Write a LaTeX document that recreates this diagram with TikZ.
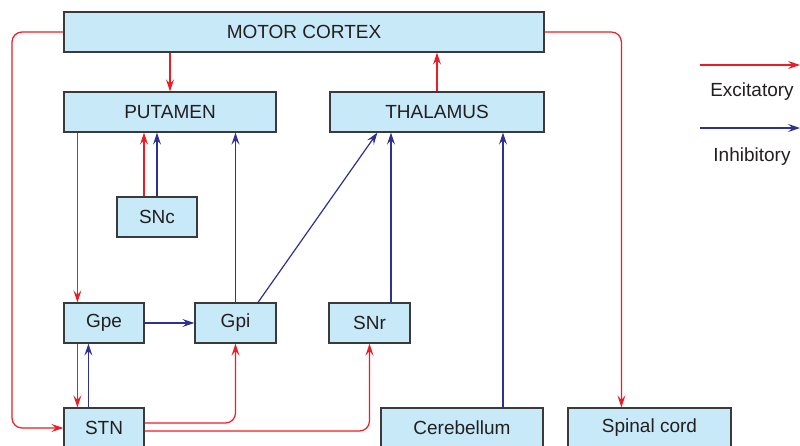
\documentclass[tikz,border=0pt]{standalone}
\usepackage{fontspec}
\setmainfont{Liberation Sans}
\usetikzlibrary{arrows.meta,calc}
\definecolor{exred}{HTML}{ED1C24}
\definecolor{inblue}{HTML}{2E3192}
\definecolor{boxfill}{HTML}{C7E9F8}
\definecolor{boxline}{HTML}{3A3A3A}
\definecolor{txt}{HTML}{231F20}
\tikzset{
  box/.style={draw=boxline, line width=1.2pt, fill=boxfill, minimum height=40pt, inner sep=0pt,
              font=\fontsize{19}{21}\selectfont, text=txt},
  tip/.style={-{Stealth[length=12pt,width=8pt,inset=4.5pt]}},
  exc/.style={tip, draw=exred, line width=1.2pt},
  inh/.style={tip, draw=inblue, line width=1.2pt},
  lbl/.style={font=\fontsize{19}{21}\selectfont, text=txt, inner sep=0pt}
}
\begin{document}
\begin{tikzpicture}[x=1pt,y=-1pt]
\useasboundingbox (0,0) rectangle (800,445);
\clip (0,0) rectangle (800,445);
\fill[white] (0,0) rectangle (800,445);

\node[box, minimum width=480pt] (mc) at (304,32) {MOTOR CORTEX};
\node[box, minimum width=212pt] (put) at (170,112) {PUTAMEN};
\node[box, minimum width=214pt] (thal) at (437,112) {THALAMUS};
\node[box, minimum width=80pt] (snc) at (157,217) {SNc};
\node[box, minimum width=80pt] (gpe) at (104,323) {Gpe};
\node[box, minimum width=81pt] (gpi) at (235.5,323) {Gpi};
\node[box, minimum width=81pt] (snr) at (369.5,323) {SNr};
\node[box, minimum width=80pt] (stn) at (104,428) {STN};
\node[box, minimum width=162pt] (cer) at (462,428) {Cerebellum};
\node[box, minimum width=163pt] (sp) at (649.5,428) {Spinal cord};

% motor cortex outputs
\draw[exc] (mc.south -| put.north) -- (put.north);
\draw[exc] (thal.north) -- (thal.north |- mc.south);
\coordinate (lc) at (12,428);
\draw[exc, rounded corners=10pt] (mc.west) -| (lc) -- (stn.west);
\coordinate (rc) at ($(sp.north west)+(54,0)$);
\draw[exc, rounded corners=10pt] (mc.east) -| (rc);

% putamen
\coordinate (pg) at ($(gpe.north west)+(14,0)$);
\draw[exc] (put.south -| pg) -- (pg);
\coordinate (sncr) at ($(snc.north)+(-13,0)$);
\draw[exc] (sncr) -- (sncr |- put.south);
\draw[inh] (snc.north) -- (snc.north |- put.south);
\draw[inh] (gpi.north) -- (gpi.north |- put.south);

% thalamus inputs
\coordinate (gpiT) at ($(gpi.north)+(22.5,0)$);
\coordinate (thalD) at ($(thal.south west)+(48,0)$);
\draw[inh] (gpiT) -- (thalD);
\coordinate (snrT) at ($(snr.north)+(21.5,0)$);
\draw[inh] (snrT) -- (snrT |- thal.south);
\coordinate (cerT) at ($(cer.north)+(41,0)$);
\draw[inh] (cerT) -- (cerT |- thal.south);

% Gpe / Gpi / STN
\draw[inh] (gpe.east) -- (gpi.west);
\coordinate (ge) at ($(gpe.south west)+(14,0)$);
\draw[exc] (ge) -- (ge |- stn.north);
\coordinate (sg) at ($(stn.north west)+(25,0)$);
\draw[inh] (sg) -- (sg |- gpe.south);
\coordinate (s1) at ($(stn.east)+(0,-5)$);
\draw[exc, rounded corners=10pt] (s1) -| (gpi.south);
\coordinate (s2) at ($(stn.east)+(0,3)$);
\draw[exc, rounded corners=10pt] (s2) -| (snr.south);

% legend
\coordinate (l1a) at (700,65);
\coordinate (l1b) at (800,65);
\coordinate (l2a) at (700,128);
\coordinate (l2b) at (800,128);
\draw[exc] (l1a) -- (l1b);
\draw[inh] (l2a) -- (l2b);
\node[lbl] (le) at (752,92) {Excitatory};
\node[lbl] (li) at (752,157) {Inhibitory};
\end{tikzpicture}
\end{document}
